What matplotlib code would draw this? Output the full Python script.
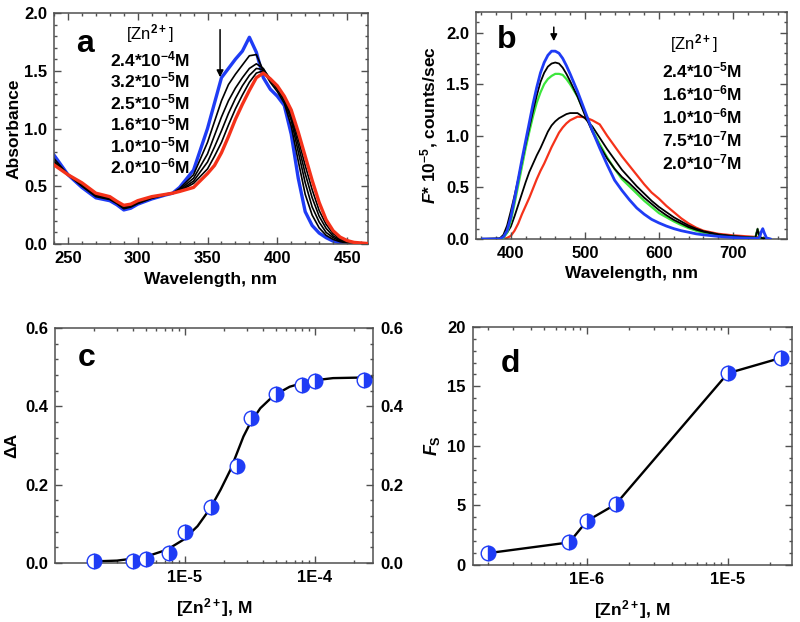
import numpy as np
import matplotlib
matplotlib.use('Agg')
import matplotlib.pyplot as plt
from matplotlib.ticker import MultipleLocator, FixedLocator, FixedFormatter, LogLocator, NullFormatter

# fonts
plt.rcParams['font.family'] = ['Liberation Sans', 'DejaVu Sans']
plt.rcParams['font.weight'] = 'bold'
plt.rcParams['mathtext.fontset'] = 'custom'
plt.rcParams['mathtext.rm'] = 'Liberation Sans:bold'
plt.rcParams['mathtext.it'] = 'Liberation Sans:italic:bold'
plt.rcParams['mathtext.bf'] = 'Liberation Sans:bold'

BLUE = '#1f3cf5'
RED = '#f5321a'
GREEN = '#3ce63c'
SPINE = '#505050'

# ---- panel a : absorption spectra ----
wl_a = [240, 250, 260, 270, 280, 285, 290, 295, 300, 310, 320, 325, 330, 340, 350, 355,
        360, 365, 370, 375, 380, 385, 390, 395, 400, 405, 410, 415, 420, 425, 430, 435,
        440, 445, 450, 455, 465]
abs_24e4 = [0.77, 0.60, 0.49, 0.40, 0.375, 0.34, 0.295, 0.31, 0.345, 0.39, 0.425, 0.44, 0.49, 0.64, 1.00, 1.22,
            1.44, 1.52, 1.60, 1.67, 1.79, 1.66, 1.44, 1.34, 1.28, 1.20, 0.95, 0.57, 0.28, 0.16, 0.095, 0.055,
            0.025, 0.01, 0.004, 0.0, 0.0]
abs_32e5 = [0.74, 0.60, 0.50, 0.41, 0.385, 0.35, 0.305, 0.32, 0.35, 0.395, 0.425, 0.44, 0.48, 0.60, 0.88, 1.06,
            1.24, 1.38, 1.47, 1.55, 1.63, 1.64, 1.50, 1.40, 1.32, 1.22, 1.02, 0.72, 0.43, 0.25, 0.14, 0.075,
            0.04, 0.02, 0.01, 0.005, 0.0]
abs_25e5 = [0.72, 0.60, 0.51, 0.42, 0.39, 0.355, 0.315, 0.325, 0.355, 0.40, 0.43, 0.44, 0.47, 0.57, 0.78, 0.94,
            1.10, 1.24, 1.35, 1.44, 1.52, 1.56, 1.52, 1.42, 1.34, 1.24, 1.07, 0.80, 0.53, 0.32, 0.19, 0.10,
            0.055, 0.028, 0.014, 0.007, 0.0]
abs_16e5 = [0.71, 0.60, 0.515, 0.425, 0.395, 0.36, 0.32, 0.33, 0.36, 0.405, 0.43, 0.44, 0.462, 0.545, 0.71, 0.84,
            0.98, 1.13, 1.26, 1.37, 1.46, 1.52, 1.51, 1.43, 1.35, 1.26, 1.10, 0.86, 0.61, 0.40, 0.24, 0.135,
            0.07, 0.036, 0.018, 0.009, 0.001]
abs_10e5 = [0.70, 0.60, 0.52, 0.43, 0.40, 0.365, 0.325, 0.335, 0.365, 0.405, 0.43, 0.44, 0.458, 0.525, 0.65, 0.76,
            0.88, 1.03, 1.17, 1.29, 1.40, 1.48, 1.50, 1.43, 1.36, 1.27, 1.13, 0.91, 0.68, 0.47, 0.29, 0.17,
            0.09, 0.046, 0.022, 0.01, 0.002]
abs_20e6 = [0.685, 0.60, 0.53, 0.44, 0.41, 0.37, 0.335, 0.345, 0.375, 0.41, 0.43, 0.44, 0.455, 0.49, 0.61, 0.68,
            0.79, 0.93, 1.08, 1.21, 1.33, 1.44, 1.48, 1.43, 1.37, 1.28, 1.16, 0.97, 0.76, 0.55, 0.36, 0.21,
            0.115, 0.06, 0.03, 0.014, 0.004]
labels_a = [r'2.4*10$^{-4}$M', r'3.2*10$^{-5}$M', r'2.5*10$^{-5}$M',
            r'1.6*10$^{-5}$M', r'1.0*10$^{-5}$M', r'2.0*10$^{-6}$M']

# ---- panel b : emission spectra ----
wl_b = [362, 385, 390, 395, 400, 405, 410, 415, 420, 425, 430, 435, 440, 445, 450, 455, 460, 465, 470,
        475, 480, 490, 500, 510, 520, 530, 540, 550, 560, 570, 580, 590, 600, 610, 620, 630, 640,
        650, 660, 680, 700, 720, 730, 733, 736, 738, 740, 742, 745, 750]
fl_24e5 = [0, 0, 0.02, 0.08, 0.21, 0.39, 0.58, 0.77, 0.95, 1.13, 1.31, 1.47, 1.61, 1.71, 1.78, 1.82, 1.82, 1.80, 1.75,
           1.68, 1.60, 1.43, 1.24, 1.05, 0.88, 0.72, 0.57, 0.47, 0.38, 0.30, 0.24, 0.19, 0.155, 0.125, 0.10, 0.08, 0.065,
           0.05, 0.04, 0.025, 0.014, 0.008, 0.006, 0.006, 0.02, 0.07, 0.10, 0.06, 0.01, 0.0]
fl_16e6 = [0, 0.005, 0.04, 0.13, 0.27, 0.42, 0.58, 0.75, 0.92, 1.08, 1.24, 1.39, 1.52, 1.61, 1.67, 1.70, 1.71, 1.70, 1.66,
           1.60, 1.53, 1.38, 1.20, 1.04, 0.90, 0.78, 0.68, 0.60, 0.54, 0.47, 0.40, 0.34, 0.28, 0.23, 0.185, 0.15, 0.115,
           0.09, 0.07, 0.04, 0.025, 0.015, 0.012, 0.09, 0.02, 0.01, 0.008, 0.006, 0.004, 0.0]
fl_10e6 = [0, 0, 0.01, 0.06, 0.17, 0.34, 0.52, 0.70, 0.88, 1.04, 1.19, 1.32, 1.42, 1.50, 1.55, 1.58, 1.60, 1.60, 1.59,
           1.55, 1.50, 1.38, 1.22, 1.06, 0.92, 0.79, 0.68, 0.58, 0.51, 0.44, 0.37, 0.31, 0.25, 0.21, 0.17, 0.135, 0.105,
           0.08, 0.06, 0.035, 0.02, 0.012, 0.01, 0.09, 0.01, 0.008, 0.006, 0.004, 0.002, 0.0]
fl_75e7 = [0, 0.003, 0.02, 0.06, 0.12, 0.22, 0.33, 0.44, 0.55, 0.65, 0.73, 0.81, 0.88, 0.96, 1.04, 1.10, 1.14, 1.17, 1.19,
           1.21, 1.22, 1.22, 1.17, 1.09, 0.98, 0.87, 0.77, 0.67, 0.59, 0.51, 0.44, 0.37, 0.31, 0.26, 0.21, 0.17, 0.13,
           0.10, 0.075, 0.045, 0.028, 0.018, 0.015, 0.10, 0.02, 0.01, 0.008, 0.006, 0.003, 0.0]
fl_20e7 = [0, 0, 0.0, 0.01, 0.03, 0.08, 0.15, 0.24, 0.32, 0.40, 0.49, 0.58, 0.66, 0.73, 0.81, 0.89, 0.96, 1.03, 1.08,
           1.12, 1.15, 1.185, 1.18, 1.15, 1.11, 1.00, 0.90, 0.80, 0.71, 0.62, 0.53, 0.45, 0.39, 0.32, 0.26, 0.20, 0.15,
           0.11, 0.08, 0.05, 0.035, 0.025, 0.02, 0.02, 0.015, 0.01, 0.008, 0.006, 0.003, 0.0]
labels_b = [r'2.4*10$^{-5}$M', r'1.6*10$^{-6}$M', r'1.0*10$^{-6}$M',
            r'7.5*10$^{-7}$M', r'2.0*10$^{-7}$M']

# ---- panel c : titration (absorbance) ----
zn_c = [2.0e-6, 4.0e-6, 5.0e-6, 7.5e-6, 1.0e-5, 1.6e-5, 2.5e-5, 3.2e-5, 5.0e-5, 8.0e-5, 1.0e-4, 2.4e-4]
dA_c = [0.005, 0.006, 0.009, 0.025, 0.078, 0.143, 0.248, 0.369, 0.432, 0.455, 0.465, 0.467]
# fitted curve
fit_x = [2.0e-6, 3.0e-6, 4.9e-6, 7.3e-6, 9.8e-6, 1.25e-5, 1.57e-5, 1.88e-5, 2.24e-5, 2.51e-5,
         2.82e-5, 3.18e-5, 3.8e-5, 4.8e-5, 6.4e-5, 9.2e-5, 1.38e-4, 2.8e-4]
fit_y = [0.004, 0.006, 0.015, 0.034, 0.06, 0.094, 0.14, 0.187, 0.238, 0.28,
         0.323, 0.357, 0.395, 0.427, 0.45, 0.465, 0.472, 0.474]

# ---- panel d : fluorescence enhancement ----
zn_d = [2.0e-7, 7.5e-7, 1.0e-6, 1.6e-6, 1.0e-5, 2.4e-5]
fs_d = [1.0, 1.9, 3.7, 5.1, 16.1, 17.4]


def style(ax):
    for s in ax.spines.values():
        s.set_color(SPINE)
        s.set_linewidth(1.1)
    ax.tick_params(which='both', direction='in', top=True, right=True, colors=SPINE,
                   labelcolor='black', labelsize=12, width=1.0)
    ax.tick_params(which='major', length=5, pad=5)
    ax.tick_params(which='minor', length=2.5)
    for t in ax.get_xticklabels() + ax.get_yticklabels():
        t.set_fontweight('bold')


fig = plt.figure(figsize=(8, 6.22), dpi=100)

# panel a
ax = fig.add_axes([0.0675, 0.6077, 0.3925, 0.3714])
ax.plot(wl_a, abs_20e6, color=RED, lw=2.4, zorder=3)
for yy in [abs_10e5, abs_16e5, abs_25e5, abs_32e5]:
    ax.plot(wl_a, yy, color='black', lw=1.2, zorder=2)
ax.plot(wl_a, abs_24e4, color=BLUE, lw=2.4, zorder=1)
ax.set_xlim(240, 465)
ax.set_ylim(0, 2.0)
ax.xaxis.set_major_locator(MultipleLocator(50))
ax.xaxis.set_minor_locator(MultipleLocator(10))
ax.yaxis.set_major_locator(MultipleLocator(0.5))
ax.yaxis.set_minor_locator(MultipleLocator(0.1))
ax.yaxis.set_major_formatter(matplotlib.ticker.FormatStrFormatter('%.1f'))
ax.set_xlabel('Wavelength, nm', fontsize=12.5, fontweight='bold', labelpad=4)
ax.set_ylabel('Absorbance', fontsize=12.5, fontweight='bold', labelpad=2)
style(ax)
ax.annotate('', xy=(359, 1.42), xytext=(359, 1.88),
            arrowprops=dict(arrowstyle='-|>', color='black', lw=1.1, mutation_scale=10))
ax.text(0.07, 0.83, 'a', transform=ax.transAxes, fontsize=23, fontweight='bold')
ax.text(0.306, 0.886, r'[Zn$^{2+}$]', transform=ax.transAxes, fontsize=12,
        fontweight='normal', ha='center')
for i, lab in enumerate(labels_a):
    ax.text(0.178, 0.771 - i * 0.0934, lab, transform=ax.transAxes, fontsize=12.5,
            fontweight='bold')

# panel b
ax = fig.add_axes([0.595, 0.6158, 0.389, 0.365])
ax.plot(wl_b, fl_20e7, color=RED, lw=1.6, zorder=1)
ax.plot(wl_b, fl_75e7, color='black', lw=1.3, zorder=2)
ax.plot(wl_b, fl_10e6, color=GREEN, lw=1.6, zorder=3)
ax.plot(wl_b, fl_16e6, color='black', lw=1.3, zorder=4)
ax.plot(wl_b, fl_24e5, color=BLUE, lw=2.0, zorder=5)
ax.set_xlim(353, 773)
ax.set_ylim(0, 2.2)
ax.xaxis.set_major_locator(MultipleLocator(100))
ax.xaxis.set_minor_locator(MultipleLocator(20))
ax.yaxis.set_major_locator(MultipleLocator(0.5))
ax.yaxis.set_minor_locator(MultipleLocator(0.1))
ax.yaxis.set_major_formatter(matplotlib.ticker.FormatStrFormatter('%.1f'))
ax.set_xlabel('Wavelength, nm', fontsize=12.5, fontweight='bold', labelpad=4)
ax.set_ylabel(r'$\it{F}$* 10$^{-5}$, counts/sec', fontsize=12.5, fontweight='bold', labelpad=4)
style(ax)
ax.annotate('', xy=(458, 1.89), xytext=(458, 2.08),
            arrowprops=dict(arrowstyle='-|>', color='black', lw=1.1, mutation_scale=10))
ax.text(0.068, 0.84, 'b', transform=ax.transAxes, fontsize=23, fontweight='bold')
ax.text(0.698, 0.836, r'[Zn$^{2+}$]', transform=ax.transAxes, fontsize=12,
        fontweight='normal', ha='center')
for i, lab in enumerate(labels_b):
    ax.text(0.597, 0.711 - i * 0.1008, lab, transform=ax.transAxes, fontsize=12.5,
            fontweight='bold')

# panel c
ax = fig.add_axes([0.06875, 0.0949, 0.3975, 0.3778])
ax.plot(fit_x, fit_y, color='black', lw=1.7, zorder=2)
ax.plot(zn_c, dA_c, 'o', ms=10.5, color=BLUE, fillstyle='right', markerfacecoloralt='white',
        markeredgecolor=BLUE, markeredgewidth=1.0, zorder=3, clip_on=False)
ax.set_xscale('log')
ax.set_xlim(1.0e-6, 2.8e-4)
ax.set_ylim(0, 0.6)
ax.xaxis.set_major_locator(FixedLocator([1e-5, 1e-4]))
ax.xaxis.set_major_formatter(FixedFormatter(['1E-5', '1E-4']))
ax.xaxis.set_minor_locator(LogLocator(base=10, subs=np.arange(2, 10), numticks=20))
ax.xaxis.set_minor_formatter(NullFormatter())
ax.yaxis.set_major_locator(MultipleLocator(0.2))
ax.yaxis.set_minor_locator(MultipleLocator(0.04))
ax.yaxis.set_major_formatter(matplotlib.ticker.FormatStrFormatter('%.1f'))
ax.tick_params(labelright=True)
ax.set_xlabel(r'[Zn$^{2+}$], M', fontsize=12.5, fontweight='bold', labelpad=8)
ax.set_ylabel(u'\u0394A', fontsize=12.5, fontweight='bold', labelpad=4)
style(ax)
ax.text(0.07, 0.84, 'c', transform=ax.transAxes, fontsize=23, fontweight='bold')

# panel d
ax = fig.add_axes([0.591, 0.0916, 0.399, 0.383])
ax.plot(zn_d, fs_d, '-', color='black', lw=1.7, zorder=2)
ax.plot(zn_d, fs_d, 'o', ms=10.5, color=BLUE, fillstyle='right', markerfacecoloralt='white',
        markeredgecolor=BLUE, markeredgewidth=1.0, zorder=3, clip_on=False)
ax.set_xscale('log')
ax.set_xlim(1.55e-7, 2.85e-5)
ax.set_ylim(0, 20)
ax.xaxis.set_major_locator(FixedLocator([1e-6, 1e-5]))
ax.xaxis.set_major_formatter(FixedFormatter(['1E-6', '1E-5']))
ax.xaxis.set_minor_locator(LogLocator(base=10, subs=np.arange(2, 10), numticks=20))
ax.xaxis.set_minor_formatter(NullFormatter())
ax.yaxis.set_major_locator(MultipleLocator(5))
ax.yaxis.set_minor_locator(MultipleLocator(1))
ax.set_xlabel(r'[Zn$^{2+}$], M', fontsize=12.5, fontweight='bold', labelpad=8)
ax.set_ylabel(r'$\it{F}_\mathrm{S}$', fontsize=13, fontweight='bold', labelpad=4)
style(ax)
ax.text(0.086, 0.81, 'd', transform=ax.transAxes, fontsize=23, fontweight='bold')

fig.savefig('out.png', dpi=100)
